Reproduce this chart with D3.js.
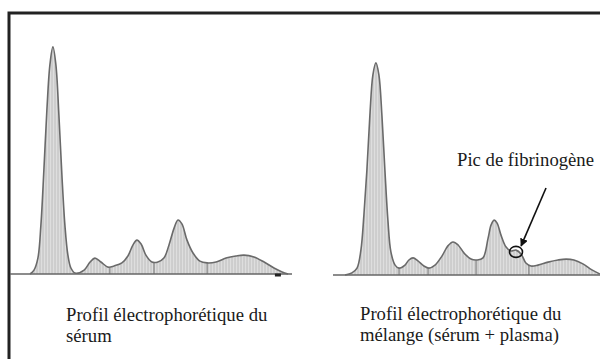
<!DOCTYPE html>
<html>
<head>
<meta charset="utf-8">
<script src="https://cdn.jsdelivr.net/npm/d3@7"></script>
<style>
  body { margin: 0; background: #fff; }
  svg { display: block; }
  text { font-family: "Times New Roman", "Liberation Serif", "DejaVu Serif", serif; font-size: 18.7px; fill: #1a1a1a; }
</style>
</head>
<body>
<div id="chart"></div>
<script>
// densitometry readings: mobility (mm) and optical density (arbitrary units)
var serumMob  = [6.7, 8, 9.3, 10.3, 11.3, 12.3, 13.3, 14.3, 15.3, 16.3, 17.3, 18.3, 19.3, 20.3, 21.7,
                 24.7, 26.7, 28.3, 30.3, 32.7, 34.7, 37.3, 39.3, 41, 42.3, 43.7, 45.3, 47.3, 49.3, 51.3,
                 53, 54.7, 56, 57.3, 59, 61, 63.3, 65.7, 68.7, 72, 75.3, 78, 81.3, 84.7, 88, 90.7, 92.7];
var serumDen  = [0, 1.3, 5.3, 16.3, 34.7, 54.7, 69.7, 75.7, 69.7, 53, 33, 16.3, 6.3, 2, 0.3,
                 1.3, 4, 5.3, 4, 2.3, 2.7, 3.7, 6, 9.7, 11.3, 10, 6.3, 4, 4, 5.3,
                 9.7, 15.3, 18, 16.7, 11.3, 7, 4.3, 3.7, 4, 5.3, 6, 6.3, 5.7, 4, 2, 0.7, 0];
var mixMob    = [4, 6.3, 8, 9.3, 10.3, 11.3, 12.3, 13.3, 14.3, 15.3, 16.3, 17.3, 18.3, 19.3, 20.7,
                 22, 24, 25.3, 26.7, 28.3, 30.3, 32, 34, 36.3, 38.3, 40, 41.7, 43.7, 46, 48,
                 50, 51.7, 52.7, 53.7, 54.7, 56, 57.7, 59.3, 61, 62.7, 64.3, 66, 68.3, 71.7, 75,
                 77.7, 80.3, 83.3, 86.3, 89];
var mixDen    = [0, 0.7, 2.3, 8.3, 20, 35, 53.3, 66.7, 70.7, 66.7, 53.3, 35, 18.3, 7.7, 3.3,
                 2.3, 3.3, 5, 5.7, 4.7, 3, 2.3, 3.3, 6.3, 9.7, 11, 10, 7.3, 5.3, 5,
                 5.7, 12.3, 16.7, 18.3, 17.3, 13.3, 9.3, 8, 8.3, 7, 4, 3, 3.3, 4.3, 5,
                 5.3, 5, 3.7, 1.7, 0.3];
// fraction boundaries (mm)
var serumCuts = [33.3, 48, 65.7];
var mixCuts   = [22, 31.7, 47.7, 65.3];
var serumLabel = ["Profil électrophorétique du", "sérum"];
var mixLabel   = ["Profil électrophorétique du", "mélange (sérum + plasma)"];
var peakLabel  = "Pic de fibrinogène";
var fibrinogen = {mob: 61, den: 7.7};

var W = 600, H = 359, k = 3;

var svg = d3.select("#chart").append("svg")
    .attr("width", W)
    .attr("height", H);

var defs = svg.append("defs");
var pat = defs.append("pattern")
    .attr("id", "hatch")
    .attr("patternUnits", "userSpaceOnUse")
    .attr("width", 3)
    .attr("height", 3);
pat.append("rect").attr("width", 3).attr("height", 3).attr("fill", "#dedede");
pat.append("line").attr("x1", 1).attr("x2", 1).attr("y1", 0).attr("y2", 3)
    .attr("stroke", "#b5b5b5").attr("stroke-width", 0.8);

defs.append("marker")
    .attr("id", "head")
    .attr("viewBox", "0 0 10 10")
    .attr("refX", 9).attr("refY", 5)
    .attr("markerWidth", 5).attr("markerHeight", 5)
    .attr("orient", "auto")
  .append("path")
    .attr("d", "M0,0L10,5L0,10z")
    .attr("fill", "#111");

// frame
svg.append("rect")
    .attr("x", 9).attr("y", 13)
    .attr("width", 700).attr("height", 400)
    .attr("fill", "none")
    .attr("stroke", "#222")
    .attr("stroke-width", 3);

function panel(id, mob, den, cuts, ox, oy, xmax) {
  var x = d3.scaleLinear().domain([0, xmax]).range([ox, ox + xmax * k]),
      y = d3.scaleLinear().domain([0, 80]).range([oy, oy - 80 * k]);
  var pts = mob.map(function(m, i) { return [m, den[i]]; });

  var area = d3.area()
      .x(function(d) { return x(d[0]); })
      .y0(y(0))
      .y1(function(d) { return y(d[1]); })
      .curve(d3.curveCatmullRom.alpha(0.5));
  var line = d3.line()
      .x(function(d) { return x(d[0]); })
      .y(function(d) { return y(d[1]); })
      .curve(d3.curveCatmullRom.alpha(0.5));

  defs.append("clipPath").attr("id", "clip-" + id)
    .append("path").attr("d", area(pts));

  var g = svg.append("g").attr("class", id);

  g.append("path")
      .attr("d", area(pts))
      .attr("fill", "url(#hatch)");

  g.selectAll("line.cut")
    .data(cuts)
    .enter().append("line")
      .attr("class", "cut")
      .attr("clip-path", "url(#clip-" + id + ")")
      .attr("x1", function(d) { return x(d); })
      .attr("x2", function(d) { return x(d); })
      .attr("y1", y(0))
      .attr("y2", y(80))
      .attr("stroke", "#777")
      .attr("stroke-width", 1);

  g.append("line")
      .attr("x1", x(0)).attr("x2", x(xmax))
      .attr("y1", y(0)).attr("y2", y(0))
      .attr("stroke", "#666")
      .attr("stroke-width", 1.5);

  g.append("path")
      .attr("d", line(pts))
      .attr("fill", "none")
      .attr("stroke", "#6a6a6a")
      .attr("stroke-width", 1.6);

  return {x: x, y: y, g: g};
}

var left = panel("serum", serumMob, serumDen, serumCuts, 10, 274, 94);
var right = panel("mix", mixMob, mixDen, mixCuts, 333, 275, 90);

// small end marker on the serum baseline
left.g.append("rect")
    .attr("x", left.x(89.3) - 3).attr("y", left.y(0) - 0.5)
    .attr("width", 6).attr("height", 3)
    .attr("fill", "#222");

// fibrinogen circle and arrow
right.g.append("ellipse")
    .attr("cx", right.x(fibrinogen.mob))
    .attr("cy", right.y(fibrinogen.den))
    .attr("rx", 6.5).attr("ry", 5.5)
    .attr("fill", "none")
    .attr("stroke", "#111")
    .attr("stroke-width", 1.6);

right.g.append("line")
    .attr("x1", right.x(71)).attr("y1", right.y(29))
    .attr("x2", right.x(62.7)).attr("y2", right.y(9.7))
    .attr("stroke", "#111")
    .attr("stroke-width", 1.6)
    .attr("marker-end", "url(#head)");

svg.append("text")
    .attr("x", 457).attr("y", 166)
    .text(peakLabel);

function label(lines, x0, y0) {
  svg.append("text")
      .attr("x", x0).attr("y", y0)
    .selectAll("tspan")
    .data(lines)
    .enter().append("tspan")
      .attr("x", x0)
      .attr("dy", function(d, i) { return i ? 21 : 0; })
      .text(function(d) { return d; });
}
label(serumLabel, 66, 321);
label(mixLabel, 360, 320);
</script>
</body>
</html>
